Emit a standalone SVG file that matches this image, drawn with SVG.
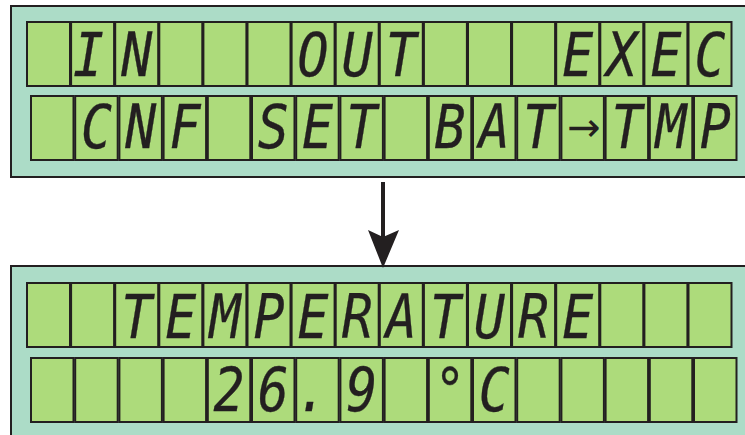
<svg xmlns="http://www.w3.org/2000/svg" width="745" height="435" viewBox="0 0 745 435">
<style>
.panel{fill:#acdcc7;stroke:#231f20;stroke-width:2}
.cell{fill:#addb7b;stroke:#231f20;stroke-width:2}
.ch{font-family:"DejaVu Sans Mono","Liberation Mono",monospace;font-style:italic;font-size:60px;fill:#231f20;stroke:#231f20;stroke-width:0.3;text-anchor:middle}
.ar{font-family:"DejaVu Sans",sans-serif;font-size:40px;fill:#231f20;text-anchor:middle}
</style>
<defs>
<rect id="c1" class="cell" width="43" height="64"/>
<rect id="c2" class="cell" width="42.5" height="64"/>
</defs>
<g id="panel-top">
<rect class="panel" x="11" y="6" width="760" height="171"/>
<g id="top-row1">
<use href="#c1" x="27" y="22"/><use href="#c1" x="71.1" y="22"/><use href="#c1" x="115.2" y="22"/><use href="#c1" x="159.3" y="22"/><use href="#c1" x="203.4" y="22"/><use href="#c1" x="247.5" y="22"/><use href="#c1" x="291.6" y="22"/><use href="#c1" x="335.7" y="22"/><use href="#c1" x="379.8" y="22"/><use href="#c1" x="423.9" y="22"/><use href="#c1" x="468" y="22"/><use href="#c1" x="512.1" y="22"/><use href="#c1" x="556.2" y="22"/><use href="#c1" x="600.3" y="22"/><use href="#c1" x="644.4" y="22"/><use href="#c1" x="688.5" y="22"/>
<text class="ch" x="88.6" y="76" textLength="31" lengthAdjust="spacingAndGlyphs">I</text><text class="ch" x="136.7" y="76" textLength="31" lengthAdjust="spacingAndGlyphs">N</text>
<text class="ch" x="313.1" y="76" textLength="31" lengthAdjust="spacingAndGlyphs">O</text><text class="ch" x="357.2" y="76" textLength="31" lengthAdjust="spacingAndGlyphs">U</text><text class="ch" x="401.3" y="76" textLength="31" lengthAdjust="spacingAndGlyphs">T</text>
<text class="ch" x="577.7" y="76" textLength="31" lengthAdjust="spacingAndGlyphs">E</text><text class="ch" x="621.8" y="76" textLength="31" lengthAdjust="spacingAndGlyphs">X</text><text class="ch" x="665.9" y="76" textLength="31" lengthAdjust="spacingAndGlyphs">E</text><text class="ch" x="710" y="76" textLength="31" lengthAdjust="spacingAndGlyphs">C</text>
</g>
<g id="top-row2">
<use href="#c2" x="31" y="96"/><use href="#c2" x="75.2" y="96"/><use href="#c2" x="119.4" y="96"/><use href="#c2" x="163.6" y="96"/><use href="#c2" x="207.8" y="96"/><use href="#c2" x="252" y="96"/><use href="#c2" x="296.2" y="96"/><use href="#c2" x="340.4" y="96"/><use href="#c2" x="384.6" y="96"/><use href="#c2" x="428.8" y="96"/><use href="#c2" x="473" y="96"/><use href="#c2" x="517.2" y="96"/><use href="#c2" x="561.4" y="96"/><use href="#c2" x="605.6" y="96"/><use href="#c2" x="649.8" y="96"/><use href="#c2" x="694" y="96"/>
<text class="ch" x="96.5" y="148" textLength="31" lengthAdjust="spacingAndGlyphs">C</text><text class="ch" x="140.7" y="148" textLength="31" lengthAdjust="spacingAndGlyphs">N</text><text class="ch" x="184.9" y="148" textLength="31" lengthAdjust="spacingAndGlyphs">F</text>
<text class="ch" x="273.3" y="148" textLength="31" lengthAdjust="spacingAndGlyphs">S</text><text class="ch" x="317.5" y="148" textLength="31" lengthAdjust="spacingAndGlyphs">E</text><text class="ch" x="361.7" y="148" textLength="31" lengthAdjust="spacingAndGlyphs">T</text>
<text class="ch" x="450.1" y="148" textLength="31" lengthAdjust="spacingAndGlyphs">B</text><text class="ch" x="494.3" y="148" textLength="31" lengthAdjust="spacingAndGlyphs">A</text><text class="ch" x="538.5" y="148" textLength="31" lengthAdjust="spacingAndGlyphs">T</text>
<text class="ar" x="584" y="141">→</text>
<text class="ch" x="626.9" y="148" textLength="31" lengthAdjust="spacingAndGlyphs">T</text><text class="ch" x="671.1" y="148" textLength="31" lengthAdjust="spacingAndGlyphs">M</text><text class="ch" x="715.3" y="148" textLength="31" lengthAdjust="spacingAndGlyphs">P</text>
</g>
</g>
<g id="panel-bottom">
<rect class="panel" x="11" y="266" width="760" height="200"/>
<g id="bottom-row1">
<use href="#c1" x="27" y="283"/><use href="#c1" x="71.1" y="283"/><use href="#c1" x="115.2" y="283"/><use href="#c1" x="159.3" y="283"/><use href="#c1" x="203.4" y="283"/><use href="#c1" x="247.5" y="283"/><use href="#c1" x="291.6" y="283"/><use href="#c1" x="335.7" y="283"/><use href="#c1" x="379.8" y="283"/><use href="#c1" x="423.9" y="283"/><use href="#c1" x="468" y="283"/><use href="#c1" x="512.1" y="283"/><use href="#c1" x="556.2" y="283"/><use href="#c1" x="600.3" y="283"/><use href="#c1" x="644.4" y="283"/><use href="#c1" x="688.5" y="283"/>
<text class="ch" x="136.7" y="338" textLength="31" lengthAdjust="spacingAndGlyphs">T</text><text class="ch" x="180.8" y="338" textLength="31" lengthAdjust="spacingAndGlyphs">E</text><text class="ch" x="224.9" y="338" textLength="31" lengthAdjust="spacingAndGlyphs">M</text><text class="ch" x="269" y="338" textLength="31" lengthAdjust="spacingAndGlyphs">P</text><text class="ch" x="313.1" y="338" textLength="31" lengthAdjust="spacingAndGlyphs">E</text><text class="ch" x="357.2" y="338" textLength="31" lengthAdjust="spacingAndGlyphs">R</text><text class="ch" x="401.3" y="338" textLength="31" lengthAdjust="spacingAndGlyphs">A</text><text class="ch" x="445.4" y="338" textLength="31" lengthAdjust="spacingAndGlyphs">T</text><text class="ch" x="489.5" y="338" textLength="31" lengthAdjust="spacingAndGlyphs">U</text><text class="ch" x="533.6" y="338" textLength="31" lengthAdjust="spacingAndGlyphs">R</text><text class="ch" x="577.7" y="338" textLength="31" lengthAdjust="spacingAndGlyphs">E</text>
</g>
<g id="bottom-row2">
<use href="#c2" x="31" y="358"/><use href="#c2" x="75.2" y="358"/><use href="#c2" x="119.4" y="358"/><use href="#c2" x="163.6" y="358"/><use href="#c2" x="207.8" y="358"/><use href="#c2" x="252" y="358"/><use href="#c2" x="296.2" y="358"/><use href="#c2" x="340.4" y="358"/><use href="#c2" x="384.6" y="358"/><use href="#c2" x="428.8" y="358"/><use href="#c2" x="473" y="358"/><use href="#c2" x="517.2" y="358"/><use href="#c2" x="561.4" y="358"/><use href="#c2" x="605.6" y="358"/><use href="#c2" x="649.8" y="358"/><use href="#c2" x="694" y="358"/>
<text class="ch" x="229.1" y="411" textLength="31" lengthAdjust="spacingAndGlyphs">2</text><text class="ch" x="273.3" y="411" textLength="31" lengthAdjust="spacingAndGlyphs">6</text><text class="ch" x="312" y="411" textLength="31" lengthAdjust="spacingAndGlyphs">.</text><text class="ch" x="361.7" y="411" textLength="31" lengthAdjust="spacingAndGlyphs">9</text>
<text class="ch" x="450.1" y="411" textLength="31" lengthAdjust="spacingAndGlyphs">°</text><text class="ch" x="494.3" y="411" textLength="31" lengthAdjust="spacingAndGlyphs">C</text>
</g>
</g>
<g id="connectors">
<line x1="383" y1="182" x2="383" y2="240" stroke="#231f20" stroke-width="4"/>
<polygon points="368,230 383,237 399,230 383,268" fill="#231f20"/>
</g>
</svg>
